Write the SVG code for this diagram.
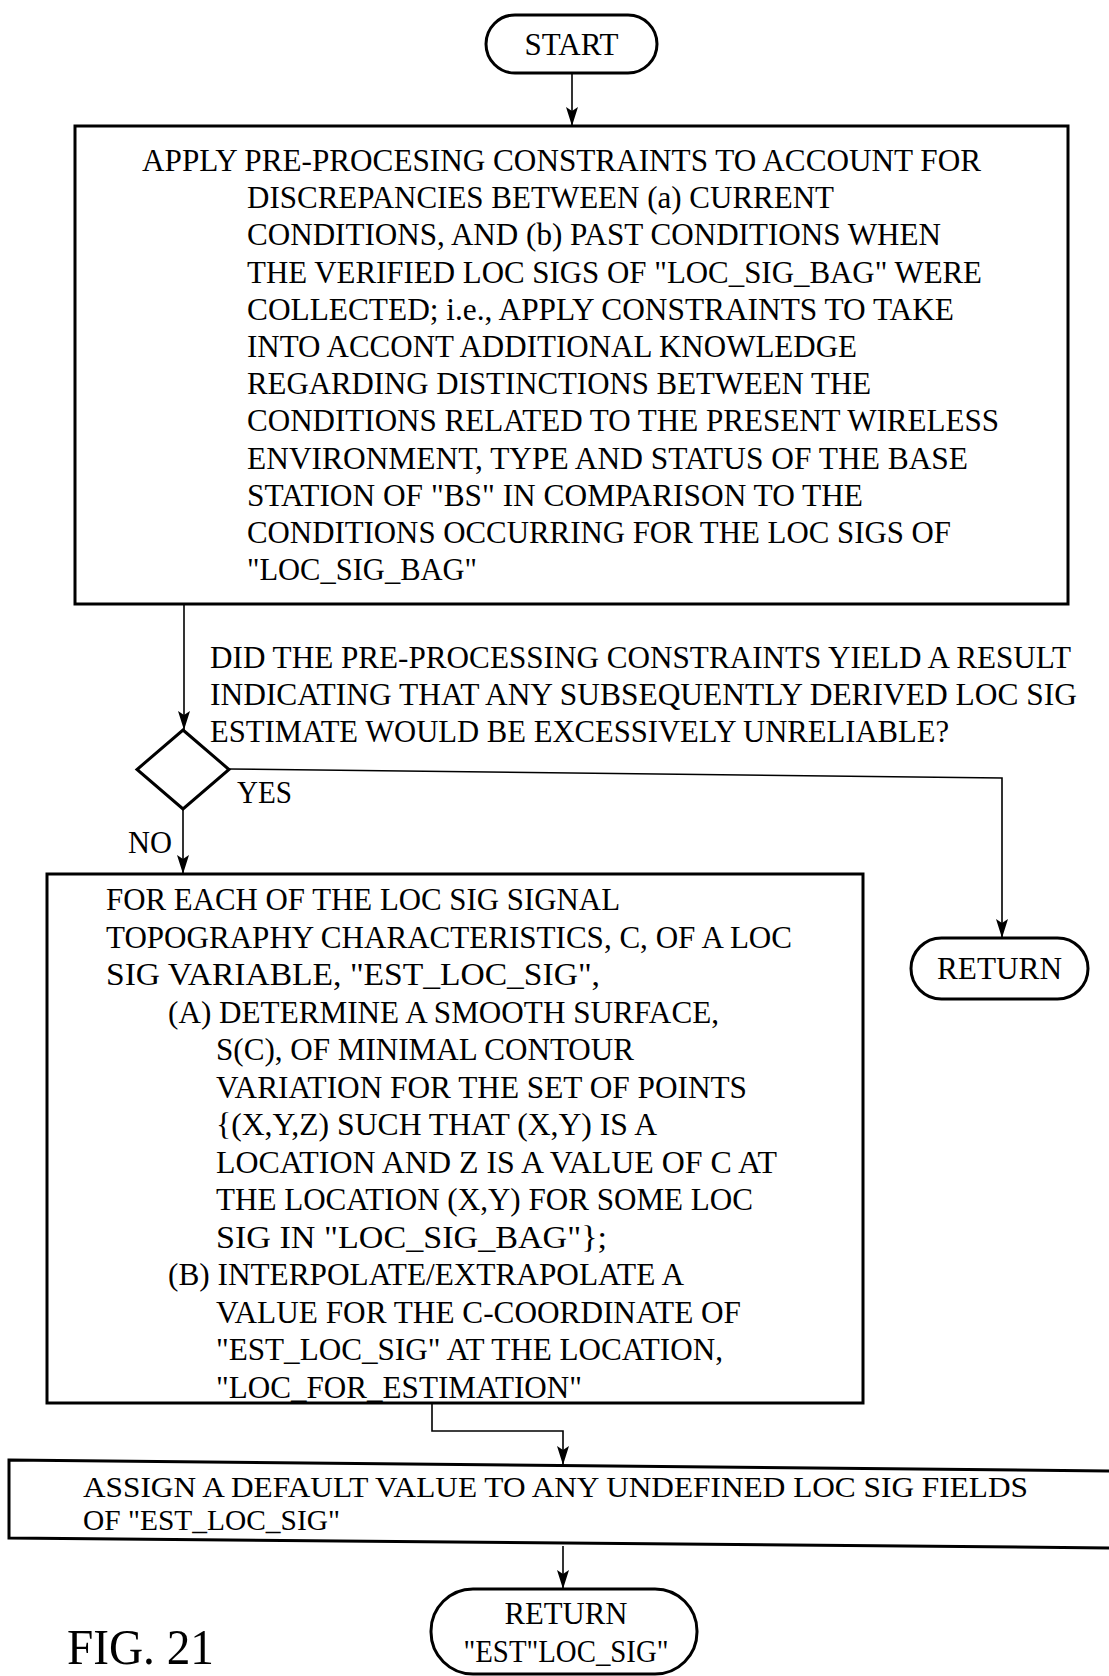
<svg xmlns="http://www.w3.org/2000/svg" width="1109" height="1676" viewBox="0 0 1109 1676">
<style>
.t{font-family:"Liberation Serif","Times New Roman",serif;font-size:32px;fill:#000}
.box{fill:none;stroke:#000;stroke-width:3}
.term{fill:#fff;stroke:#000;stroke-width:3}
.cn{fill:none;stroke:#000;stroke-width:1.6}
</style>
<defs>
<marker id="ah" markerUnits="userSpaceOnUse" markerWidth="19" markerHeight="12" refX="19" refY="6" orient="auto" viewBox="0 0 19 12">
<path d="M0,0 L19,6 L0,12 L4,6 Z" fill="#000"/>
</marker>
</defs>
<rect width="1109" height="1676" fill="#fff"/>

<g id="connectors">
<line class="cn" x1="572" y1="73" x2="572" y2="126" marker-end="url(#ah)"/>
<line class="cn" x1="184" y1="604" x2="184" y2="730" marker-end="url(#ah)"/>
<polyline class="cn" points="229,769 1002,778 1002,938" marker-end="url(#ah)"/>
<line class="cn" x1="183" y1="809" x2="183" y2="874" marker-end="url(#ah)"/>
<polyline class="cn" points="432,1403 432,1431 563,1431 563,1465" marker-end="url(#ah)"/>
<line class="cn" x1="563" y1="1546" x2="563" y2="1589" marker-end="url(#ah)"/>
</g>

<g id="start">
<rect class="term" x="486" y="15" width="171" height="58" rx="29"/>
<text class="t" x="571.5" y="55" text-anchor="middle" style="font-size:31px">START</text>
</g>

<g id="box1">
<rect class="box" x="75" y="126" width="993" height="478"/>
<text class="t" x="142" y="171" textLength="839" lengthAdjust="spacingAndGlyphs">APPLY PRE-PROCESING CONSTRAINTS TO ACCOUNT FOR</text>
<text class="t" x="247" y="208" textLength="587" lengthAdjust="spacingAndGlyphs">DISCREPANCIES BETWEEN (a) CURRENT</text>
<text class="t" x="247" y="245" textLength="694" lengthAdjust="spacingAndGlyphs">CONDITIONS, AND (b) PAST CONDITIONS WHEN</text>
<text class="t" x="247" y="283" textLength="735" lengthAdjust="spacingAndGlyphs">THE VERIFIED LOC SIGS OF "LOC_SIG_BAG" WERE</text>
<text class="t" x="247" y="320" textLength="707" lengthAdjust="spacingAndGlyphs">COLLECTED; i.e., APPLY CONSTRAINTS TO TAKE</text>
<text class="t" x="247" y="357" textLength="610" lengthAdjust="spacingAndGlyphs">INTO ACCONT ADDITIONAL KNOWLEDGE</text>
<text class="t" x="247" y="394" textLength="624" lengthAdjust="spacingAndGlyphs">REGARDING DISTINCTIONS BETWEEN THE</text>
<text class="t" x="247" y="431" textLength="752" lengthAdjust="spacingAndGlyphs">CONDITIONS RELATED TO THE PRESENT WIRELESS</text>
<text class="t" x="247" y="469" textLength="721" lengthAdjust="spacingAndGlyphs">ENVIRONMENT, TYPE AND STATUS OF THE BASE</text>
<text class="t" x="247" y="506" textLength="616" lengthAdjust="spacingAndGlyphs">STATION OF "BS" IN COMPARISON TO THE</text>
<text class="t" x="247" y="543" textLength="704" lengthAdjust="spacingAndGlyphs">CONDITIONS OCCURRING FOR THE LOC SIGS OF</text>
<text class="t" x="247" y="580" textLength="230" lengthAdjust="spacingAndGlyphs">"LOC_SIG_BAG"</text>
</g>

<g id="decision">
<polygon class="box" points="183,730 229,769.5 183,809 137,769.5"/>
<text class="t" x="210" y="668" textLength="861" lengthAdjust="spacingAndGlyphs">DID THE PRE-PROCESSING CONSTRAINTS YIELD A RESULT</text>
<text class="t" x="210" y="705" textLength="867" lengthAdjust="spacingAndGlyphs">INDICATING THAT ANY SUBSEQUENTLY DERIVED LOC SIG</text>
<text class="t" x="210" y="742" textLength="739" lengthAdjust="spacingAndGlyphs">ESTIMATE WOULD BE EXCESSIVELY UNRELIABLE?</text>
<text class="t" x="237" y="803" textLength="55" lengthAdjust="spacingAndGlyphs">YES</text>
<text class="t" x="128" y="853" textLength="44" lengthAdjust="spacingAndGlyphs">NO</text>
</g>

<g id="box2">
<rect class="box" x="47" y="874" width="816" height="529"/>
<text class="t" x="106" y="910" textLength="514" lengthAdjust="spacingAndGlyphs">FOR EACH OF THE LOC SIG SIGNAL</text>
<text class="t" x="106" y="947.5" textLength="686" lengthAdjust="spacingAndGlyphs">TOPOGRAPHY CHARACTERISTICS, C, OF A LOC</text>
<text class="t" x="106" y="985" textLength="494" lengthAdjust="spacingAndGlyphs">SIG VARIABLE, "EST_LOC_SIG",</text>
<text class="t" x="168" y="1022.5" textLength="551" lengthAdjust="spacingAndGlyphs">(A) DETERMINE A SMOOTH SURFACE,</text>
<text class="t" x="216" y="1060" textLength="418" lengthAdjust="spacingAndGlyphs">S(C), OF MINIMAL CONTOUR</text>
<text class="t" x="216" y="1097.5" textLength="531" lengthAdjust="spacingAndGlyphs">VARIATION FOR THE SET OF POINTS</text>
<text class="t" x="216" y="1135" textLength="441" lengthAdjust="spacingAndGlyphs">{(X,Y,Z) SUCH THAT (X,Y) IS A</text>
<text class="t" x="216" y="1172.5" textLength="561" lengthAdjust="spacingAndGlyphs">LOCATION AND Z IS A VALUE OF C AT</text>
<text class="t" x="216" y="1210" textLength="537" lengthAdjust="spacingAndGlyphs">THE LOCATION (X,Y) FOR SOME LOC</text>
<text class="t" x="216" y="1247.5" textLength="391" lengthAdjust="spacingAndGlyphs">SIG IN "LOC_SIG_BAG"};</text>
<text class="t" x="168" y="1285" textLength="516" lengthAdjust="spacingAndGlyphs">(B) INTERPOLATE/EXTRAPOLATE A</text>
<text class="t" x="216" y="1322.5" textLength="525" lengthAdjust="spacingAndGlyphs">VALUE FOR THE C-COORDINATE OF</text>
<text class="t" x="216" y="1360" textLength="507" lengthAdjust="spacingAndGlyphs">"EST_LOC_SIG" AT THE LOCATION,</text>
<text class="t" x="216" y="1397.5" textLength="366" lengthAdjust="spacingAndGlyphs">"LOC_FOR_ESTIMATION"</text>
</g>

<g id="return1">
<rect class="term" x="911" y="938" width="177" height="61" rx="30.5"/>
<text class="t" x="999.5" y="979" text-anchor="middle" textLength="125" lengthAdjust="spacingAndGlyphs">RETURN</text>
</g>

<g id="box3">
<polygon class="box" points="9,1460 1115,1471 1115,1548 9,1538"/>
<text class="t" x="83" y="1497" textLength="945" lengthAdjust="spacingAndGlyphs" style="font-size:29.5px">ASSIGN A DEFAULT VALUE TO ANY UNDEFINED LOC SIG FIELDS</text>
<text class="t" x="83" y="1530" textLength="257" lengthAdjust="spacingAndGlyphs" style="font-size:29.5px">OF "EST_LOC_SIG"</text>
</g>

<g id="return2">
<rect class="term" x="431" y="1589" width="266" height="85" rx="42" ry="42"/>
<text class="t" x="566" y="1624" text-anchor="middle" textLength="123" lengthAdjust="spacingAndGlyphs">RETURN</text>
<text class="t" x="566" y="1662" text-anchor="middle" textLength="205" lengthAdjust="spacingAndGlyphs">"EST"LOC_SIG"</text>
</g>

<g id="caption">
<text class="t" x="67" y="1664" textLength="147" lengthAdjust="spacingAndGlyphs" style="font-size:50px">FIG. 21</text>
</g>
</svg>
